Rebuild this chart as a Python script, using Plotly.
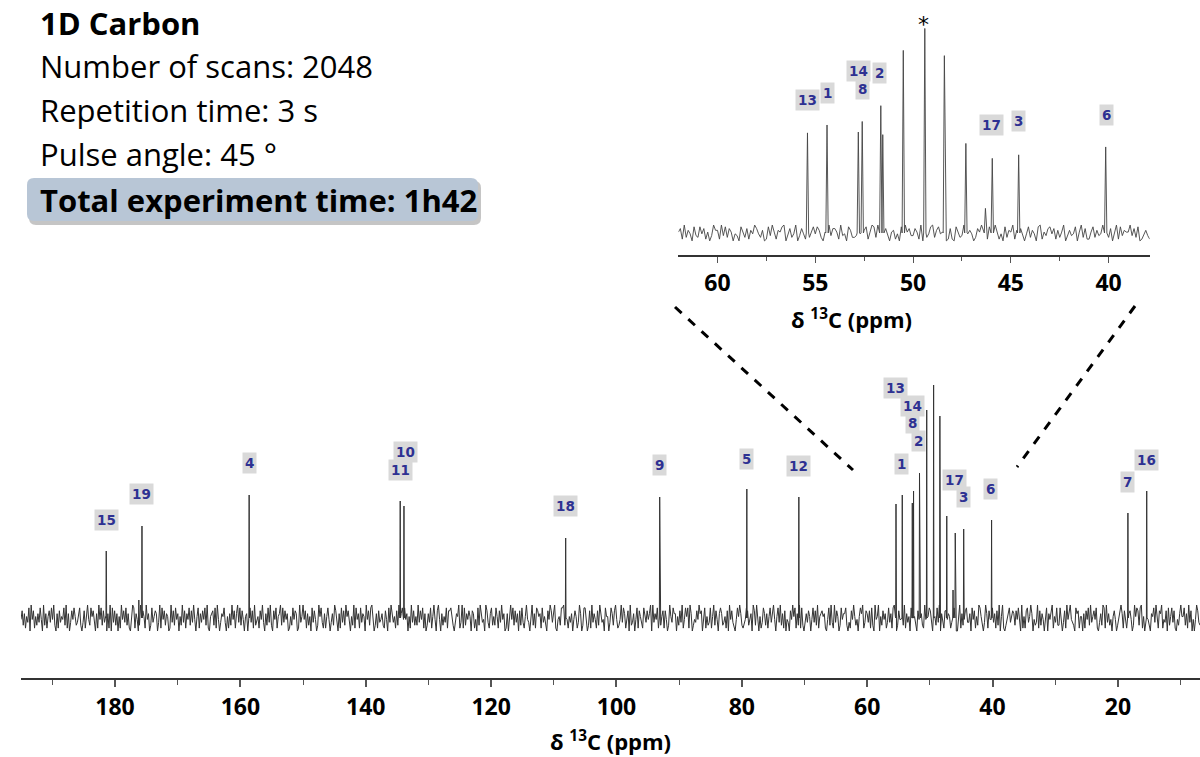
import plotly.graph_objects as go

# ---------------- data ----------------
# peak positions (ppm) and heights (arbitrary units, baseline = 0)
peak_ppm = [181.4, 176.2, 175.7, 158.6, 134.5, 133.9, 108.1, 93.1, 79.2, 70.9,
            55.4, 54.4, 52.8, 52.6, 51.65, 51.55, 50.5, 49.4, 48.4, 47.3,
            46.3, 45.95, 44.6, 40.15, 18.4, 15.4]
peak_height = [67, 18, 92, 123, 117, 112, 80, 121, 129, 121,
               114, 123, 115, 127, 145, 112, 208, 233, 202, 102,
               28, 85, 89, 98, 105, 127]

# assignment labels on the full spectrum
main_lab_text = ["15", "19", "4", "10", "11", "18", "9", "5", "12",
                 "13", "14", "8", "2", "1", "17", "3", "6", "7", "16"]
main_lab_ppm = [181.4, 175.7, 158.6, 133.7, 134.5, 108.1, 93.1, 79.2, 70.9,
                55.5, 52.8, 52.7, 51.8, 54.5, 46.1, 44.7, 40.4, 18.4, 15.4]
main_lab_y = [98, 124, 155, 166, 148, 112, 153, 159, 152,
              230, 212, 195, 177, 154, 138, 121, 129, 136, 158]

# assignment labels on the zoomed inset
inset_lab_text = ["13", "1", "14", "8", "2", "17", "3", "6"]
inset_lab_ppm = [55.4, 54.4, 52.8, 52.6, 51.7, 46.0, 44.6, 40.1]
inset_lab_y = [152, 160, 184, 164, 182, 123, 127, 134]

# baseline noise, estimated texture (digits 0-9 around the baseline)
MAIN_NOISE_DIGITS = (
    "47261538094715263840926157384920617354829160374852"
    "35820371694285730619482735061908372605194738261059"
    "81640293751946028357603918472650193728460529371648"
    "27394058163748291056728194036583051629471693827405"
    "60583719245174930628392074815692837460152847601935"
    "94716250837402958316158403629740618372957305291846"
    "18365094728950261734621740839535172906848460519372"
    "52937481602638159407940625381778420365913918264750"
    "76140829534097316825285173946016059482736072831594"
    "30492618756183520749736910452889274153604751396028"
    "85027193641729634085503862794124938615709236048175"
    "21853746909364810257174029538660527391485819602437"
    "49670381523815927406862351709473104859621348725609"
    "72940513862615837940583926170430749581629182046375"
    "04837291567561048293193750284668203174952405869137"
    "63718209459052746138361895027447291635088153074962"
    "19465872035283906417746513982005916247833608471529"
    "85203961744836172905910245836762748309151783596042"
    "39172640580647915382285037194694320867155061748293"
    "57481036298193624057402589617313674029587289150364"
    "20658394176914370825837104269558261937040497326851"
)
INSET_NOISE_DIGITS = (
    "57192640832847150396619382750430852716497426018395"
    "16589037249037416258486205193775193408622304768159"
    "82936174056140829573375190624892684530171085239746"
    "40275963187395140826591627304826408915378471625903"
    "63480592711582634970270491836559372801463169407528"
)

# top-left text block
title_line = "1D Carbon"
info_lines = ["Number of scans: 2048", "Repetition time: 3 s", "Pulse angle: 45 °"]
total_line = "Total experiment time: 1h42"

W, H = 1200, 757


def spectrum(x_start, x_end, step, digits, amp, ppm, heights, w):
    n = int(round((x_start - x_end) / step)) + 1
    pts = []
    for i in range(n):
        x = x_start - step * i
        if any(abs(x - p) <= w for p in ppm):
            continue
        d = int(digits[i % len(digits)])
        pts.append((x, (d - 4.5) / 4.5 * amp))
    for p, h in zip(ppm, heights):
        if x_end <= p <= x_start:
            pts += [(p + w, 0.0), (p, h), (p - w, 0.0)]
    pts.sort(key=lambda t: -t[0])
    return [t[0] for t in pts], [t[1] for t in pts]


mx, my = spectrum(195.0, 6.9, 0.18, MAIN_NOISE_DIGITS, 13, peak_ppm, peak_height, 0.05)
ix, iy = spectrum(62.0, 37.9, 0.1, INSET_NOISE_DIGITS, 9, peak_ppm, peak_height, 0.06)

fig = go.Figure()
fig.add_trace(go.Scatter(x=mx, y=my, mode="lines", line=dict(color="#333333", width=1),
                         xaxis="x", yaxis="y", hoverinfo="skip"))
fig.add_trace(go.Scatter(x=ix, y=iy, mode="lines", line=dict(color="#444444", width=0.9),
                         xaxis="x2", yaxis="y2", hoverinfo="skip"))

tickfont = dict(family="Open Sans", size=23, color="black", weight="bold")

fig.update_layout(
    width=W, height=H, margin=dict(l=0, r=0, t=0, b=0),
    paper_bgcolor="white", plot_bgcolor="white", showlegend=False,
    xaxis=dict(domain=[21 / W, 1.0], range=[195, 6.9], anchor="y",
               showline=True, linecolor="#333333", linewidth=2,
               ticks="outside", ticklen=7, tickwidth=1.5, tickcolor="#555555",
               tick0=0, dtick=20, tickfont=tickfont, ticklabelstandoff=0,
               minor=dict(dtick=10, ticks="outside", ticklen=5, tickcolor="#555555", tickwidth=1.2),
               showgrid=False, zeroline=False),
    yaxis=dict(domain=[79 / H, 417 / H], range=[-60, 278], visible=False),
    xaxis2=dict(domain=[678.4 / W, 1149.7 / W], range=[62.0, 37.9], anchor="y2",
                showline=True, linecolor="#333333", linewidth=1.5,
                ticks="outside", ticklen=6, tickwidth=1.2, tickcolor="#555555",
                tick0=0, dtick=5, tickfont=tickfont, ticklabelstandoff=1,
                minor=dict(dtick=2.5, ticks="outside", ticklen=4, tickcolor="#555555", tickwidth=1),
                showgrid=False, zeroline=False),
    yaxis2=dict(domain=[502 / H, 747 / H], range=[-25.1, 254], visible=False),
)

ann = []
lab_font = dict(family="DejaVu Sans", size=13.5, color="#2e3192", weight="bold")
for t, p, y in zip(main_lab_text, main_lab_ppm, main_lab_y):
    ann.append(dict(x=p, y=y, xref="x", yref="y", text=t, showarrow=False,
                    font=lab_font, bgcolor="#d9d9d9", borderpad=2))
for t, p, y in zip(inset_lab_text, inset_lab_ppm, inset_lab_y):
    ann.append(dict(x=p, y=y, xref="x2", yref="y2", text=t, showarrow=False,
                    font=lab_font, bgcolor="#d9d9d9", borderpad=2))
ann.append(dict(x=49.45, y=238, xref="x2", yref="y2", text="*", showarrow=False,
                font=dict(family="DejaVu Sans", size=22, color="black")))

title_font = dict(family="Open Sans", size=22, color="black", weight="bold")
ann.append(dict(x=610.5 / W, y=1 - 740 / H, xref="paper", yref="paper", yanchor="middle",
                text="δ <sup>13</sup>C (ppm)", showarrow=False, font=title_font))
ann.append(dict(x=914 / W, y=1 - 318 / H, xref="paper", yref="paper", yanchor="middle",
                text="δ <sup>13</sup>C (ppm)", showarrow=False, font=title_font))

txt_font = dict(family="Open Sans", size=31, color="black")
ann.append(dict(x=38 / W, y=1 - 23 / H, xref="paper", yref="paper", xanchor="left", yanchor="middle",
                text=title_line, showarrow=False, font=dict(txt_font, weight="bold")))
for t, y in zip(info_lines, [66, 110, 154]):
    ann.append(dict(x=38 / W, y=1 - y / H, xref="paper", yref="paper", xanchor="left", yanchor="middle",
                    text=t, showarrow=False, font=txt_font))
ann.append(dict(x=38 / W, y=1 - 200 / H, xref="paper", yref="paper", xanchor="left", yanchor="middle",
                text=total_line, showarrow=False, font=dict(txt_font, weight="bold")))
fig.update_layout(annotations=ann)


def rounded_rect(x0, y0, x1, y1, r):
    X0, X1 = x0 / W, x1 / W
    Y0, Y1 = 1 - y1 / H, 1 - y0 / H
    rx, ry = r / W, r / H
    return (f"M {X0+rx},{Y0} L {X1-rx},{Y0} Q {X1},{Y0} {X1},{Y0+ry} "
            f"L {X1},{Y1-ry} Q {X1},{Y1} {X1-rx},{Y1} L {X0+rx},{Y1} "
            f"Q {X0},{Y1} {X0},{Y1-ry} L {X0},{Y0+ry} Q {X0},{Y0} {X0+rx},{Y0} Z")


shapes = [
    dict(type="path", xref="paper", yref="paper", path=rounded_rect(29, 181, 481, 225, 7),
         fillcolor="rgba(90,90,90,0.35)", line=dict(width=0), layer="below"),
    dict(type="path", xref="paper", yref="paper", path=rounded_rect(27, 178, 478, 221, 7),
         fillcolor="#b8c6d6", line=dict(width=0), layer="below"),
    dict(type="line", xref="paper", yref="paper", x0=675 / W, y0=1 - 307 / H, x1=853 / W, y1=1 - 470 / H,
         line=dict(color="black", width=3, dash="dash")),
    dict(type="line", xref="paper", yref="paper", x0=1135 / W, y0=1 - 306 / H, x1=1017 / W, y1=1 - 467 / H,
         line=dict(color="black", width=3, dash="dash")),
]
fig.update_layout(shapes=shapes)

fig.write_html("out.html")
